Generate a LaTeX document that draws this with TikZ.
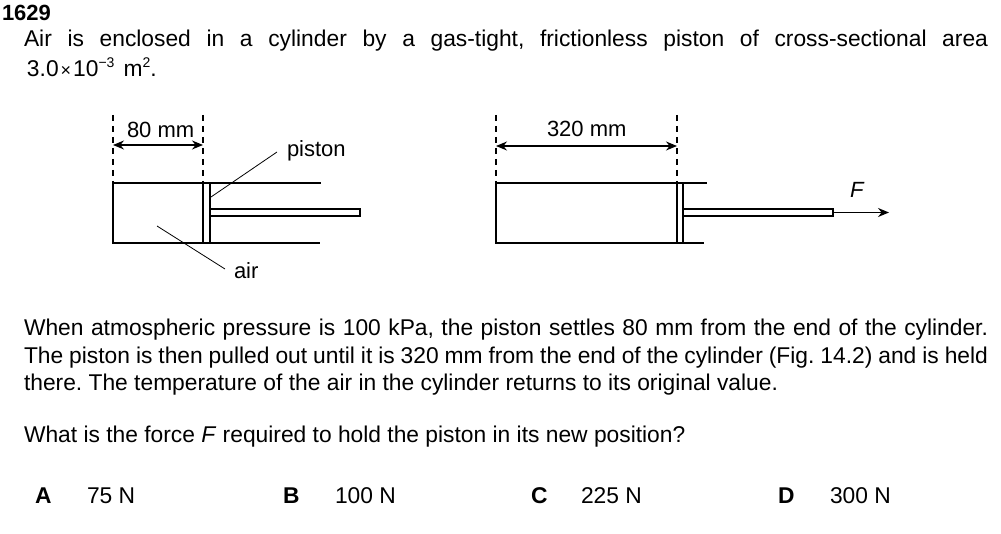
\documentclass[tikz,border=0pt]{standalone}
\usepackage{fontspec}
\setmainfont{Liberation Sans}
\usetikzlibrary{arrows.meta}
\frenchspacing
\tikzset{
  txt/.style={anchor=base west, inner sep=0pt, outer sep=0pt, font=\fontsize{22.8}{26}\selectfont},
  boldtxt/.style={txt, font=\fontsize{22.8}{26}\selectfont\bfseries},
  lbl/.style={anchor=base west, inner sep=0pt, outer sep=0pt, font=\fontsize{22}{25}\selectfont},
  wall/.style={line width=2pt, line cap=rect},
  thin/.style={line width=1.4pt},
  dim/.style={line width=1.3pt, dash pattern=on 6pt off 5pt},
  dimarrow/.style={line width=1.3pt, {Stealth[length=11pt,width=9pt]}-{Stealth[length=11pt,width=9pt]}},
  leader/.style={line width=0.8pt},
}
\begin{document}
\begin{tikzpicture}[x=1pt,y=-1pt]
\useasboundingbox (0,0) rectangle (1001,534);
% header text
\node[txt, font=\fontsize{22}{26}\selectfont\bfseries] (num) at (2,21) {1629};
\node[txt] (l1) at (24,47) {\makebox[964pt][s]{Air is enclosed in a cylinder by a gas-tight, frictionless piston of cross-sectional area}};
\node[txt] (l2) at (27,77) {3.0\kern2pt{\fontsize{18}{20}\selectfont ×}\kern2pt10\raisebox{9pt}{\fontsize{14}{16}\selectfont −3}\kern9pt m\raisebox{9pt}{\fontsize{14}{16}\selectfont 2}.};

% ---- left figure ----
\draw[wall] (320,183) -- (113,183) -- (113,243) -- (319,243);
\draw[thin] (203,183) rectangle (210,243);
\draw[thin] (210,209) rectangle (360,216);
\coordinate (d1t) at (113,115); \coordinate (d1b) at (113,183);
\coordinate (d2t) at (203,115); \coordinate (d2b) at (203,183);
\draw[dim] (d1t) -- (d1b);
\draw[dim] (d2t) -- (d2b);
\coordinate (a1l) at (113,145); \coordinate (a1r) at (203,145);
\draw[dimarrow] (a1l) -- (a1r);
\node[lbl] (mm80) at (127,138) {80 mm};
\node[lbl] (pistonlbl) at (287,157) {piston};
\coordinate (pl1) at (277,152); \coordinate (pl2) at (211,197);
\draw[leader] (pl1) -- (pl2);
\node[lbl] (airlbl) at (234,279) {air};
\coordinate (al1) at (157,226); \coordinate (al2) at (225,269);
\draw[leader] (al1) -- (al2);

% ---- right figure ----
\draw[wall] (706,183) -- (496,183) -- (496,243) -- (703,243);
\draw[thin] (677,183) rectangle (683,243);
\draw[thin] (683,209) rectangle (833,216);
\coordinate (e1t) at (496,115); \coordinate (e1b) at (496,183);
\coordinate (e2t) at (677,115); \coordinate (e2b) at (677,183);
\draw[dim] (e1t) -- (e1b);
\draw[dim] (e2t) -- (e2b);
\coordinate (a2l) at (496,146); \coordinate (a2r) at (677,146);
\draw[dimarrow] (a2l) -- (a2r);
\node[lbl] (mm320) at (547,137) {320 mm};
\coordinate (f1) at (833,212.5); \coordinate (f2) at (889,212.5);
\draw[line width=1.3pt, -{Stealth[length=11pt,width=9pt]}] (f1) -- (f2);
\node[lbl, font=\fontsize{22}{25}\selectfont\itshape] (Flbl) at (850,198) {F};

% ---- paragraph ----
\node[txt] (p1) at (24,336) {\makebox[964pt][s]{When atmospheric pressure is 100 kPa, the piston settles 80 mm from the end of the cylinder.}};
\node[txt] (p2) at (24,363) {\makebox[964pt][s]{The piston is then pulled out until it is 320 mm from the end of the cylinder (Fig. 14.2) and is held}};
\node[txt] (p3) at (24,390) {there. The temperature of the air in the cylinder returns to its original value.};
\node[txt] (q) at (24,442) {What is the force \textit{F} required to hold the piston in its new position?};

% ---- answers ----
\node[boldtxt] (oA) at (35,503) {A};
\node[txt] (vA) at (87,503) {75 N};
\node[boldtxt] (oB) at (283,503) {B};
\node[txt] (vB) at (335,503) {100 N};
\node[boldtxt] (oC) at (531,503) {C};
\node[txt] (vC) at (581,503) {225 N};
\node[boldtxt] (oD) at (778,503) {D};
\node[txt] (vD) at (830,503) {300 N};
\end{tikzpicture}
\end{document}
